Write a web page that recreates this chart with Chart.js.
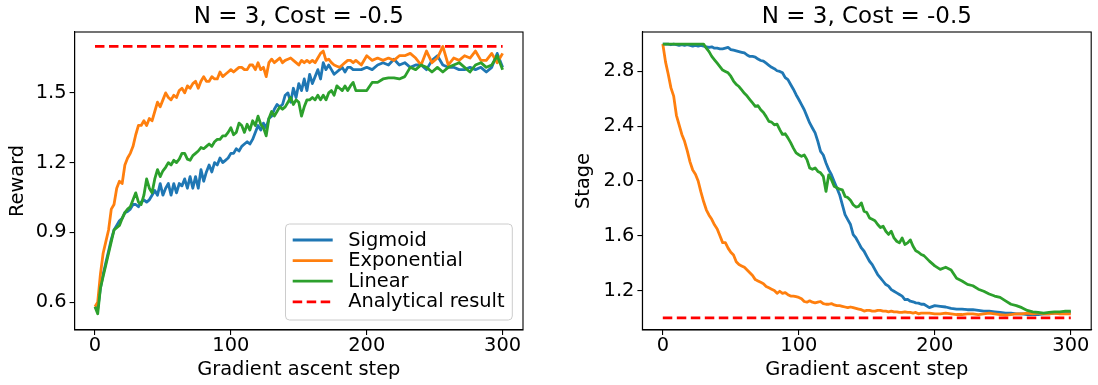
<!DOCTYPE html>
<html><head><meta charset="utf-8">
<script src="https://cdn.jsdelivr.net/npm/chart.js@4/dist/chart.umd.min.js"></script>
<style>
html,body{margin:0;padding:0;background:#fff;}
#wrap{position:relative;width:1098px;height:385px;background:#fff;}
canvas{position:absolute;top:0;}
</style></head><body>
<div id="wrap">
<canvas id="c1" width="549" height="385" style="left:0px"></canvas>
<canvas id="c2" width="549" height="385" style="left:549px"></canvas>
</div>
<script>
// ---------- DATA ----------
const steps = [0,2,4,6,8,10,12,14,16,18,20,22,24,26,28,30,32,34,36,38,40,42,44,46,48,50,52,54,56,58,60,62,64,66,68,70,72,74,76,78,80,82,84,86,88,90,92,94,96,98,
  100,102,104,106,108,110,112,114,116,118,120,122,124,126,128,130,132,134,136,138,140,142,144,146,148,150,152,154,156,158,160,162,164,166,168,170,172,174,176,178,180,182,184,186,188,190,192,
  196,200,204,208,212,216,220,224,228,232,236,240,244,248,252,256,260,264,268,272,276,280,284,288,292,296,300];

const rewardSigmoid = [0.58,0.57,0.66,0.72,0.77,0.82,0.87,0.91,0.93,0.95,
  0.96,0.985,0.99,1.00,1.02,1.02,1.01,1.03,1.04,1.03,
  1.04,1.06,1.08,1.06,1.11,1.06,1.09,1.11,1.06,1.11,
  1.07,1.11,1.10,1.13,1.09,1.14,1.09,1.14,1.09,1.17,
  1.12,1.16,1.19,1.16,1.20,1.19,1.22,1.20,1.21,1.22,
  1.24,1.24,1.26,1.25,1.27,1.28,1.29,1.28,1.30,1.33,
  1.36,1.34,1.37,1.35,1.39,1.40,1.43,1.45,1.44,1.45,
  1.49,1.50,1.46,1.52,1.48,1.54,1.51,1.56,1.51,1.58,
  1.54,1.57,1.60,1.56,1.63,1.60,1.62,1.60,1.58,1.59,
  1.60,1.61,1.59,1.61,1.61,1.60,1.60,
  1.60,1.61,1.60,1.62,1.63,1.62,1.645,
  1.62,1.63,1.61,1.62,1.62,1.60,1.64,1.66,1.62,1.61,
  1.61,1.60,1.60,1.61,1.60,1.61,1.59,1.61,1.67,1.61];

const rewardExponential = [0.58,0.60,0.72,0.81,0.86,0.91,1.00,1.02,1.09,1.12,
  1.11,1.19,1.22,1.24,1.27,1.32,1.36,1.36,1.38,1.36,
  1.39,1.38,1.42,1.46,1.44,1.47,1.50,1.48,1.47,1.49,
  1.48,1.51,1.52,1.50,1.53,1.52,1.54,1.55,1.52,1.55,
  1.57,1.55,1.55,1.57,1.56,1.56,1.59,1.57,1.58,1.59,
  1.60,1.59,1.60,1.61,1.61,1.60,1.60,1.62,1.62,1.60,
  1.63,1.60,1.61,1.57,1.63,1.645,1.63,1.64,1.65,1.63,
  1.64,1.645,1.65,1.64,1.63,1.62,1.64,1.63,1.64,1.63,
  1.64,1.63,1.65,1.67,1.68,1.64,1.645,1.63,1.62,1.615,
  1.61,1.62,1.63,1.64,1.64,1.63,1.64,
  1.62,1.66,1.64,1.65,1.64,1.65,1.64,
  1.66,1.66,1.67,1.65,1.62,1.68,1.63,1.65,1.70,1.62,
  1.65,1.64,1.66,1.65,1.68,1.64,1.64,1.67,1.63,1.67];

const rewardLinear = [0.58,0.55,0.66,0.71,0.76,0.81,0.86,0.91,0.92,0.93,
  0.96,0.985,1.00,1.01,1.04,1.07,1.03,1.02,1.06,1.13,
  1.09,1.07,1.13,1.17,1.14,1.165,1.18,1.20,1.19,1.21,
  1.20,1.215,1.24,1.24,1.215,1.21,1.23,1.24,1.25,1.265,
  1.26,1.27,1.28,1.27,1.29,1.30,1.30,1.315,1.315,1.33,
  1.35,1.32,1.33,1.37,1.36,1.33,1.365,1.34,1.38,1.36,
  1.40,1.365,1.35,1.315,1.39,1.42,1.40,1.42,1.44,1.43,
  1.44,1.46,1.48,1.45,1.47,1.46,1.40,1.44,1.47,1.47,
  1.48,1.47,1.49,1.47,1.49,1.47,1.50,1.51,1.49,1.53,
  1.52,1.51,1.53,1.51,1.53,1.545,1.51,
  1.51,1.51,1.545,1.545,1.56,1.565,1.565,
  1.56,1.57,1.61,1.60,1.62,1.61,1.59,1.61,1.59,1.61,
  1.62,1.63,1.61,1.59,1.62,1.63,1.61,1.62,1.66,1.60];

const stageSigmoid = [3.00,3.00,3.00,2.995,3.00,2.995,2.99,2.995,2.99,2.995,
  2.99,2.985,2.99,2.985,2.99,2.985,2.98,2.975,2.98,2.97,
  2.97,2.965,2.965,2.97,2.975,2.96,2.955,2.95,2.945,2.94,
  2.935,2.92,2.91,2.91,2.905,2.89,2.88,2.875,2.86,2.845,
  2.83,2.82,2.805,2.80,2.79,2.755,2.74,2.705,2.67,2.63,
  2.595,2.557,2.52,2.472,2.424,2.387,2.351,2.289,2.216,2.19,
  2.132,2.083,2.046,1.997,1.949,1.90,1.827,1.754,1.718,1.682,
  1.609,1.584,1.548,1.511,1.487,1.45,1.414,1.39,1.353,1.317,
  1.293,1.268,1.244,1.232,1.207,1.195,1.183,1.171,1.159,1.134,
  1.136,1.122,1.118,1.11,1.108,1.10,1.10,
  1.075,1.09,1.085,1.08,1.07,1.065,1.065,
  1.06,1.06,1.055,1.05,1.05,1.045,1.04,1.035,1.035,1.03,
  1.03,1.025,1.025,1.025,1.03,1.03,1.035,1.035,1.04,1.04];

const stageExponential = [3.00,2.87,2.78,2.68,2.62,2.48,2.41,2.34,2.29,2.22,
  2.14,2.08,2.05,2.00,1.92,1.85,1.79,1.75,1.72,1.68,
  1.65,1.60,1.55,1.55,1.51,1.48,1.46,1.41,1.39,1.38,
  1.37,1.35,1.33,1.31,1.28,1.27,1.26,1.25,1.23,1.22,
  1.21,1.20,1.18,1.195,1.18,1.185,1.17,1.16,1.16,1.155,
  1.15,1.14,1.12,1.115,1.125,1.115,1.11,1.115,1.12,1.105,
  1.10,1.10,1.105,1.095,1.09,1.09,1.085,1.08,1.075,1.08,
  1.075,1.07,1.065,1.06,1.05,1.055,1.055,1.05,1.05,1.055,
  1.055,1.05,1.05,1.045,1.05,1.045,1.045,1.04,1.04,1.045,
  1.04,1.04,1.035,1.04,1.03,1.035,1.035,
  1.035,1.03,1.03,1.035,1.03,1.025,1.025,
  1.03,1.03,1.025,1.03,1.035,1.03,1.025,1.02,1.025,1.03,
  1.03,1.035,1.03,1.035,1.03,1.03,1.035,1.03,1.03,1.03];

const stageLinear = [3,3,3,3,3,3,3,3,3,3,
  3,3,3,3,3,3,2.97,2.945,2.91,2.885,
  2.86,2.835,2.81,2.80,2.79,2.765,2.73,2.705,2.69,2.665,
  2.64,2.62,2.595,2.57,2.545,2.55,2.52,2.50,2.47,2.435,
  2.43,2.41,2.415,2.375,2.34,2.345,2.315,2.28,2.24,2.205,
  2.192,2.18,2.19,2.156,2.095,2.085,2.095,2.07,2.06,2.034,
  1.924,2.045,2.01,1.961,1.95,1.94,1.935,1.888,1.88,1.86,
  1.827,1.81,1.815,1.84,1.779,1.77,1.73,1.72,1.71,1.682,
  1.66,1.67,1.633,1.61,1.633,1.584,1.56,1.548,1.584,1.536,
  1.548,1.57,1.523,1.49,1.48,1.463,1.455,
  1.415,1.38,1.355,1.37,1.35,1.29,1.27,
  1.245,1.235,1.21,1.195,1.175,1.16,1.15,1.125,1.10,1.09,
  1.075,1.055,1.045,1.04,1.035,1.04,1.045,1.045,1.05,1.05];

const analyticalSteps = [0, 300];
const rewardAnalytical = [1.70, 1.70];
const stageAnalytical = [1.0, 1.0];

const xTicks = [0, 100, 200, 300];
const rewardTicks = [0.6, 0.9, 1.2, 1.5];
const stageTicks = [1.2, 1.6, 2.0, 2.4, 2.8];

const seriesNames = ['Sigmoid', 'Exponential', 'Linear', 'Analytical result'];
const chartTitle = 'N = 3, Cost = -0.5';

// ---------- STYLE ----------
const FS = 19.4;
const FONT = "'DejaVu Sans', sans-serif";
Chart.defaults.font.family = FONT;
Chart.defaults.color = '#000';
const COLORS = ['#1f77b4', '#ff7f0e', '#2ca02c', '#ff0000'];

function pts(xs, ys) { return xs.map((x, i) => ({ x: x, y: ys[i] })); }

function makeDatasets(sig, exp, lin, ana) {
  const arr = [pts(steps, sig), pts(steps, exp), pts(steps, lin), pts(analyticalSteps, ana)];
  return arr.map((d, i) => ({
    label: seriesNames[i],
    data: d,
    borderColor: COLORS[i],
    backgroundColor: COLORS[i],
    borderWidth: 2.8,
    borderDash: i === 3 ? [9.5, 4.5] : [],
    borderJoinStyle: 'round',
    pointRadius: 0,
    tension: 0,
    fill: false,
    order: 4 - i
  }));
}

const framePlugin = {
  id: 'frame',
  afterDraw(chart) {
    const { ctx, chartArea: a } = chart;
    ctx.save();
    ctx.strokeStyle = '#000';
    ctx.lineWidth = 1.1;
    ctx.strokeRect(a.left, a.top, a.right - a.left, a.bottom - a.top);
    ctx.restore();
  }
};

function roundRectPath(ctx, x, y, w, h, r) {
  ctx.beginPath();
  ctx.moveTo(x + r, y);
  ctx.lineTo(x + w - r, y);
  ctx.arcTo(x + w, y, x + w, y + r, r);
  ctx.lineTo(x + w, y + h - r);
  ctx.arcTo(x + w, y + h, x + w - r, y + h, r);
  ctx.lineTo(x + r, y + h);
  ctx.arcTo(x, y + h, x, y + h - r, r);
  ctx.lineTo(x, y + r);
  ctx.arcTo(x, y, x + r, y, r);
  ctx.closePath();
}

const boxLegendPlugin = {
  id: 'boxLegend',
  afterDatasetsDraw(chart, args, opts) {
    if (!opts || !opts.show) return;
    const { ctx, chartArea: a } = chart;
    const w = 226.8, h = 96;
    const x = a.right - 10.7 - w, y = a.bottom - 10 - h;
    ctx.save();
    roundRectPath(ctx, x, y, w, h, 4);
    ctx.fillStyle = 'rgba(255,255,255,0.8)';
    ctx.fill();
    ctx.strokeStyle = '#cccccc';
    ctx.lineWidth = 1;
    ctx.stroke();
    chart.data.datasets.forEach((ds, i) => {
      const yy = y + 16 + i * 20.6;
      ctx.beginPath();
      ctx.setLineDash(ds.borderDash || []);
      ctx.strokeStyle = ds.borderColor;
      ctx.lineWidth = ds.borderWidth;
      ctx.moveTo(x + 7.2, yy);
      ctx.lineTo(x + 47.2, yy);
      ctx.stroke();
      ctx.setLineDash([]);
      ctx.fillStyle = '#000';
      ctx.font = FS + "px " + FONT;
      ctx.textBaseline = 'middle';
      ctx.textAlign = 'left';
      ctx.fillText(ds.label, x + 62.8, yy + 0.5);
    });
    ctx.restore();
  }
};

function axisCommon() {
  return {
    grid: { display: true, drawOnChartArea: false, drawTicks: true, tickLength: 5, color: '#000', lineWidth: 1.1 },
    border: { display: true, color: '#000', width: 1.1 }
  };
}

function makeChart(canvasId, cfg) {
  const xc = axisCommon(), yc = axisCommon();
  return new Chart(document.getElementById(canvasId), {
    type: 'line',
    data: { datasets: cfg.datasets },
    options: {
      responsive: false,
      animation: false,
      devicePixelRatio: 1,
      layout: { padding: { left: cfg.padLeft, right: cfg.padRight, top: 0, bottom: 0 } },
      scales: {
        x: {
          type: 'linear', min: -15, max: 315,
          afterBuildTicks: s => { s.ticks = xTicks.map(v => ({ value: v })); },
          afterFit: s => { s.height = 55; },
          ticks: { font: { size: FS, lineHeight: 1 }, color: '#000', padding: 1.5, maxRotation: 0, callback: v => String(v) },
          grid: xc.grid, border: xc.border,
          title: { display: true, text: 'Gradient ascent step', color: '#000', font: { size: FS, lineHeight: 1.2 }, padding: { top: 0, bottom: 3.4 } }
        },
        y: {
          type: 'linear', min: cfg.yMin, max: cfg.yMax,
          afterBuildTicks: s => { s.ticks = cfg.yTicks.map(v => ({ value: v })); },
          afterFit: s => { s.width = cfg.yWidth; },
          ticks: { font: { size: FS, lineHeight: 1 }, color: '#000', padding: 3, callback: v => Number(v).toFixed(1) },
          grid: yc.grid, border: yc.border,
          title: { display: true, text: cfg.yTitle, color: '#000', font: { size: FS, lineHeight: 1.2 }, padding: { top: 6, bottom: 0 } }
        }
      },
      plugins: {
        legend: { display: false },
        tooltip: { enabled: false },
        title: { display: true, text: chartTitle, fullSize: false, color: '#000', font: { size: 23, weight: 'normal', lineHeight: 1.2 }, padding: { top: 3.2, bottom: 1.2 } },
        boxLegend: { show: cfg.legend }
      }
    },
    plugins: [framePlugin, boxLegendPlugin]
  });
}

makeChart('c1', {
  datasets: makeDatasets(rewardSigmoid, rewardExponential, rewardLinear, rewardAnalytical),
  padLeft: 0, padRight: 26, yWidth: 74.6,
  yMin: 0.48, yMax: 1.762, yTicks: rewardTicks, yTitle: 'Reward', legend: true
});

makeChart('c2', {
  datasets: makeDatasets(stageSigmoid, stageExponential, stageLinear, stageAnalytical),
  padLeft: 17.5, padRight: 6.8, yWidth: 75.9,
  yMin: 0.912, yMax: 3.088, yTicks: stageTicks, yTitle: 'Stage', legend: false
});
</script>
</body></html>
